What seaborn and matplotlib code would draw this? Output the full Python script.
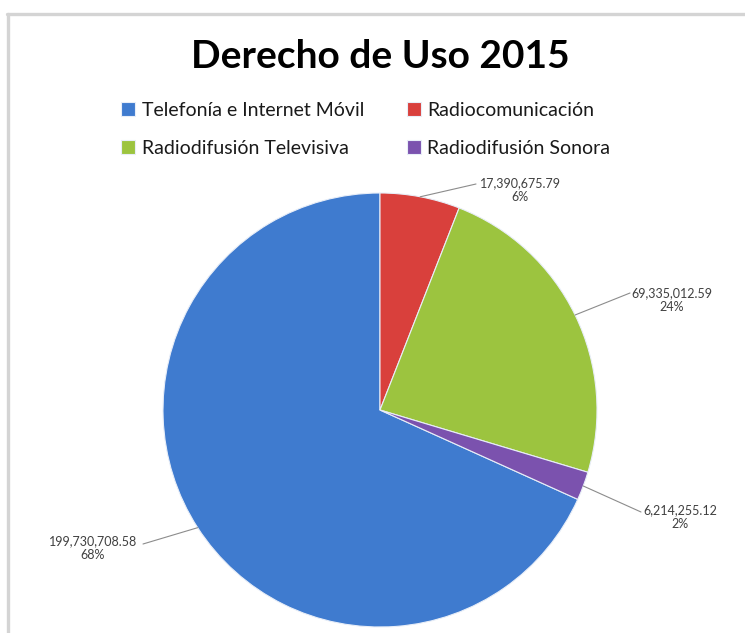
import matplotlib
matplotlib.use("Agg")
import matplotlib.pyplot as plt
import seaborn as sns
import numpy as np
from matplotlib.lines import Line2D

# ---- data ----
categories = ["Telefonía e Internet Móvil", "Radiocomunicación",
              "Radiodifusión Televisiva", "Radiodifusión Sonora"]
values = [199730708.58, 17390675.79, 69335012.59, 6214255.12]
value_labels = ["199,730,708.58", "17,390,675.79", "69,335,012.59", "6,214,255.12"]
pct_labels = ["68%", "6%", "24%", "2%"]
colors = ["#3f7bcf", "#d9403c", "#9cc43f", "#7b52ae"]
title = "Derecho de Uso 2015"

sns.set_theme(style="white")
plt.rcParams["font.family"] = ["Lato", "DejaVu Sans"]

W, H = 745, 633
fig = plt.figure(figsize=(W / 100, H / 100), dpi=100)
fig.patch.set_facecolor("white")

# frame lines
fig.add_artist(Line2D([7 / W, 1], [1 - 14 / H, 1 - 14 / H], color="#d4d4d4", lw=2.4,
                      transform=fig.transFigure))
fig.add_artist(Line2D([8 / W, 8 / W], [0, 1 - 14 / H], color="#d4d4d4", lw=2.4,
                      transform=fig.transFigure))

cx, cy, r = 380, 410, 217
ax = fig.add_axes([(cx - r) / W, (H - cy - r) / H, 2 * r / W, 2 * r / H])
ax.set_xlim(-1, 1)
ax.set_ylim(-1, 1)
ax.axis("off")

total = sum(values)
start = 90 + values[0] / total * 360
wedges, _ = ax.pie(values, colors=colors, startangle=start, counterclock=False,
                   radius=1, wedgeprops=dict(edgecolor="#e8eef8", linewidth=0.8))
ax.set_xlim(-1, 1)
ax.set_ylim(-1, 1)

# label text anchor points in pixel space (text block centers and leader ends)
text_pos = [(93, 548), (520, 190), (672, 300), (680, 517)]
line_end = [(143, 544), (476, 184), (630, 293), (641, 512)]

for i, w in enumerate(wedges):
    mid = np.deg2rad((w.theta1 + w.theta2) / 2)
    x0, y0 = np.cos(mid), np.sin(mid)
    ex, ey = line_end[i]
    ax.plot([x0, (ex - cx) / r], [y0, (cy - ey) / r], color="#8c8c8c", lw=0.8,
            clip_on=False)
    tx, ty = text_pos[i]
    ax.text((tx - cx) / r, (cy - ty) / r, value_labels[i] + "\n" + pct_labels[i],
            ha="center", va="center", fontsize=9, color="#404040",
            linespacing=1.15, clip_on=False)

fig.text(380 / W, 1 - 56 / H, title, ha="center", va="center",
         fontsize=28, fontweight="bold", color="black")

order = [0, 2, 1, 3]
fig.legend([wedges[i] for i in order], [categories[i] for i in order],
           loc="upper left",
           bbox_to_anchor=(104 / W, 1 - 84 / H), ncol=2, frameon=False,
           fontsize=14, handlelength=0.7, handleheight=0.7,
           handletextpad=0.35, columnspacing=2.2, labelspacing=1.1,
           labelcolor="#1a1a1a")

fig.savefig("out.png", dpi=100, facecolor="white")
